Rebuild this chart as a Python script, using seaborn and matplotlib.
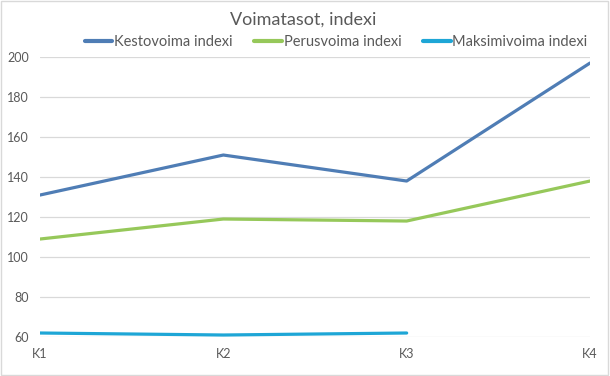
import numpy as np
import pandas as pd
import seaborn as sns
import matplotlib.pyplot as plt

# Chart data
quarters = ["K1", "K2", "K3", "K4"]
kestovoima = [131, 151, 138, 197]
perusvoima = [109, 119, 118, 138]
maksimivoima = [62, 61, 62, np.nan]

series_names = ["Kestovoima indexi", "Perusvoima indexi", "Maksimivoima indexi"]
colors = ["#4F7DB5", "#96C85A", "#1EA6D6"]

df = pd.DataFrame({
    "Kvartaali": quarters * 3,
    "Indeksi": kestovoima + perusvoima + maksimivoima,
    "Sarja": [n for n in series_names for _ in quarters],
})
df["x"] = df["Kvartaali"].map({q: i for i, q in enumerate(quarters)})

sns.set_style("white")
plt.rcParams["font.family"] = ["Lato", "DejaVu Sans"]

fig = plt.figure(figsize=(6.1, 3.76), dpi=100)
ax = fig.add_axes([0.0656, 0.1037, 0.9016, 0.7446])

sns.lineplot(data=df, x="x", y="Indeksi", hue="Sarja", palette=colors,
             hue_order=series_names, linewidth=2.3, ax=ax, legend=False)

ax.set_xlim(0, 3)
ax.set_ylim(60, 200)
ax.set_yticks(range(60, 201, 20))
ax.set_xticks(range(len(quarters)))
ax.set_xticklabels(quarters)
ax.grid(axis="y", color="#D9D9D9", linewidth=0.9)
ax.set_axisbelow(True)
for s in ax.spines.values():
    s.set_visible(False)
ax.tick_params(axis="both", length=0, labelsize=9, colors="#595959")
ax.tick_params(axis="x", pad=8)
ax.tick_params(axis="y", pad=8)
ax.set_xlabel("")
ax.set_ylabel("")

handles = [plt.Line2D([], [], color=c, linewidth=3) for c in colors]
fig.legend(handles, series_names, loc="center", bbox_to_anchor=(0.551, 0.888),
           ncol=3, frameon=False, fontsize=10.5, handlelength=1.9,
           handletextpad=0.1, columnspacing=1.5, labelcolor="#595959")
fig.suptitle("Voimatasot, indexi", x=0.497, y=0.97, fontsize=13, color="#595959")

# light frame around the chart area
fig.patches.append(plt.Rectangle((0.002, 0.003), 0.995, 0.994, transform=fig.transFigure,
                                 fill=False, edgecolor="#D9D9D9", linewidth=1))

fig.savefig("out.png", dpi=100)
